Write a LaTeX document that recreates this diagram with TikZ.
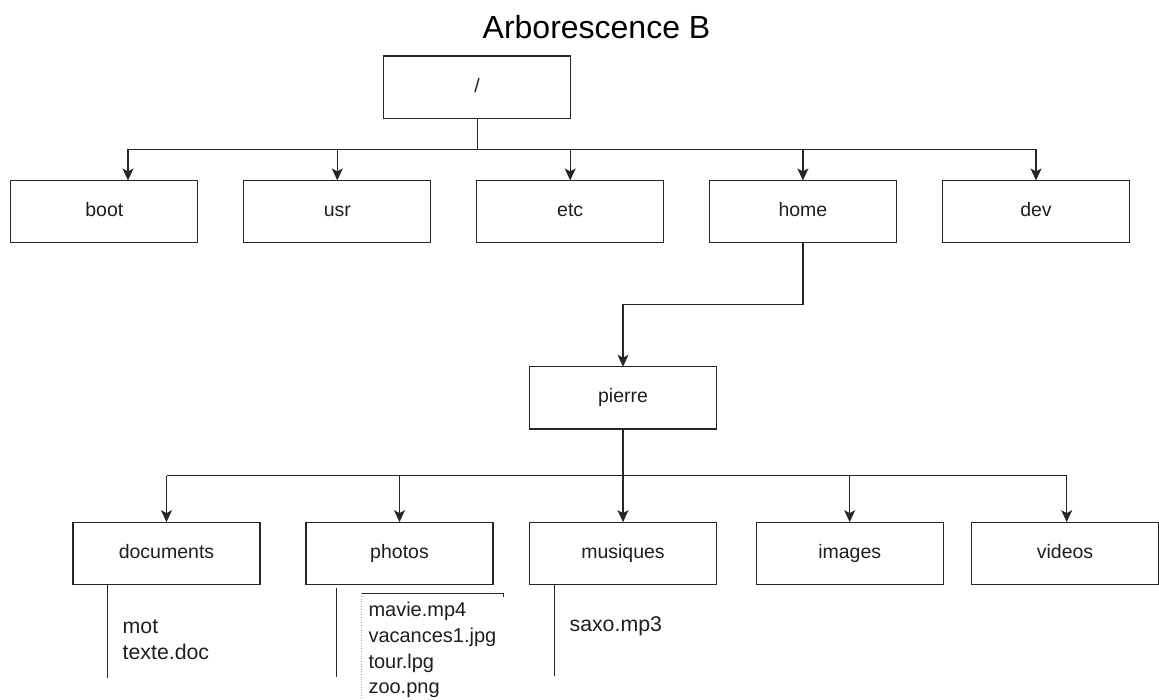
\documentclass[tikz,border=0pt]{standalone}
\usepackage{fontspec}
\setmainfont{Liberation Sans}
\usetikzlibrary{arrows.meta}
\definecolor{ink}{HTML}{262626}
\definecolor{txt}{HTML}{1E1E1E}
\tikzset{
  box/.style={draw=ink, line width=1.3pt, minimum width=187pt, minimum height=62.3pt,
    inner sep=0pt, outer sep=0pt, text=txt, text height=14pt, text depth=4pt,
    font=\fontsize{19.5}{23}\selectfont},
  conn/.style={draw=ink, line width=1.2pt},
  arr/.style={conn, -{Stealth[length=12pt, width=11pt, inset=3pt]}},
  listtxt/.style={anchor=base west, inner sep=0pt, text=txt, align=left},
}
\begin{document}
\begin{tikzpicture}[x=1pt, y=-1pt]
\useasboundingbox (0,0) rectangle (1159,700);
% title
\node[anchor=base, inner sep=0pt, font=\fontsize{32}{38}\selectfont, text=black] (title) at (596.5,38.3) {Arborescence B};
% level 0
\node[box] (root) at (477.2,87.2) {/};
% level 1
\node[box] (boot) at (104.3,211.6) {boot};
\node[box] (usr)  at (337.3,211.6) {usr};
\node[box] (etc)  at (570.2,211.6) {etc};
\node[box] (home) at (802.9,211.6) {home};
\node[box] (dev)  at (1036.0,211.6) {dev};
% level 2
\node[box] (pierre) at (623.0,397.9) {pierre};
% level 3
\node[box] (documents) at (166.5,553.3) {documents};
\node[box] (photos)    at (399.5,553.3) {photos};
\node[box] (musiques)  at (623.0,553.3) {musiques};
\node[box] (images)    at (849.7,553.3) {images};
\node[box] (videos)    at (1065.0,553.3) {videos};
% buses
\coordinate (b1) at (0,149.3);
\coordinate (b2) at (0,475.7);
\coordinate (bootin) at ([xshift=23.7pt]boot.north);
% root -> level 1
\draw[conn] (root.south) -- (root.south |- b1);
\draw[conn] (bootin |- b1) -- (dev.north |- b1);
\draw[arr] (bootin |- b1) -- (bootin);
\draw[arr] (usr.north |- b1) -- (usr.north);
\draw[arr] (etc.north |- b1) -- (etc.north);
\draw[arr] (home.north |- b1) -- (home.north);
\draw[arr] (dev.north |- b1) -- (dev.north);
% home -> pierre
\draw[arr] (home.south) -- ++(0,61.8) -| (pierre.north);
% pierre -> level 3
\draw[conn] (documents.north |- b2) -- ([xshift=1.7pt]videos.north |- b2);
\draw[arr] (pierre.south) -- (musiques.north);
\draw[arr] (documents.north |- b2) -- (documents.north);
\draw[arr] (photos.north |- b2) -- (photos.north);
\draw[arr] (images.north |- b2) -- (images.north);
\draw[arr] ([xshift=1.7pt]videos.north |- b2) -- ([xshift=1.7pt]videos.north);
% file lists
\coordinate (dtop) at (107.5,584.5);
\coordinate (dend) at (107.5,677.7);
\coordinate (ptop) at (336.5,587.7);
\coordinate (pend) at (336.5,676.5);
\coordinate (mtop) at (554.6,584.5);
\coordinate (mend) at (554.6,676.0);
\draw[conn] (dtop) -- (dend);
\draw[conn] (ptop) -- (pend);
\draw[conn] (mtop) -- (mend);
% cropped frame around photo list
\coordinate (fl) at (361.7,593.3);
\coordinate (fr) at (503.3,593.3);
\draw[draw=ink, line width=1.1pt] (fl) -- (fr) -- ++(0,3.5);
\draw[draw=black!35, line width=0.6pt, dotted] (fl) -- ++(0,106);
\node[listtxt, font=\fontsize{21.3}{26}\selectfont] (dlist1) at (122.5,633.3) {mot};
\node[listtxt, font=\fontsize{21.3}{26}\selectfont] (dlist2) at (122.5,659.3) {texte.doc};
\node[listtxt, font=\fontsize{20}{26}\selectfont] (plist1) at (368.3,616.0) {mavie.mp4};
\node[listtxt, font=\fontsize{20}{26}\selectfont] (plist2) at (368.3,642.3) {vacances1.jpg};
\node[listtxt, font=\fontsize{20}{26}\selectfont] (plist3) at (368.3,668.3) {tour.lpg};
\node[listtxt, font=\fontsize{20}{26}\selectfont] (plist4) at (368.3,693.3) {zoo.png};
\node[listtxt, font=\fontsize{21.3}{26}\selectfont] (mlist1) at (569.4,631.7) {saxo.mp3};
\end{tikzpicture}
\end{document}
